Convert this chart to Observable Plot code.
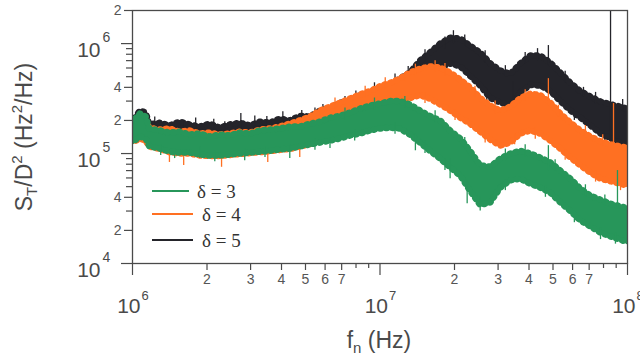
<!DOCTYPE html>
<html>
<head>
<meta charset="utf-8">
<script src="https://cdn.jsdelivr.net/npm/d3@7"></script>
<script src="https://cdn.jsdelivr.net/npm/@observablehq/plot@0.6"></script>
<style>
  html, body { margin: 0; padding: 0; background: #fff; }
  svg { display: block; }
</style>
</head>
<body>
<div id="chart"></div>
<script>
// Frequency grid (Hz) shared by the three spectra
const freq = [1.0e6, 1.07e6, 1.13e6, 1.17e6, 1.29e6, 1.41e6, 1.55e6, 1.70e6, 1.87e6, 2.05e6,
  2.25e6, 2.47e6, 2.71e6, 2.98e6, 3.27e6, 3.59e6, 3.94e6, 4.32e6, 4.74e6, 5.21e6,
  5.72e6, 6.28e6, 6.89e6, 7.56e6, 8.30e6, 9.12e6, 1.0e7, 1.10e7, 1.20e7, 1.32e7,
  1.45e7, 1.59e7, 1.75e7, 1.92e7, 2.11e7, 2.31e7, 2.54e7, 2.79e7, 3.06e7, 3.36e7,
  3.69e7, 4.05e7, 4.44e7, 4.88e7, 5.35e7, 5.88e7, 6.45e7, 7.08e7, 7.78e7, 8.54e7,
  9.37e7, 1.0e8];

// Upper and lower edges of each noisy spectrum, S_T/D^2 (Hz^2/Hz)
const delta5High = [1.95e5, 2.46e5, 2.36e5, 1.84e5, 1.91e5, 1.8e5, 1.95e5, 1.84e5, 1.76e5, 1.87e5,
  1.72e5, 1.84e5, 1.91e5, 1.8e5, 1.95e5, 1.91e5, 2.08e5, 2.0e5, 2.2e5, 2.17e5,
  2.46e5, 2.56e5, 2.9e5, 2.97e5, 3.4e5, 3.5e5, 4.0e5, 4.2e5, 4.8e5, 5.45e5,
  7.0e5, 8.3e5, 1.0e6, 1.13e6, 1.11e6, 9.6e5, 8.3e5, 6.6e5, 5.7e5, 5.3e5,
  6.6e5, 7.8e5, 7.8e5, 6.7e5, 5.45e5, 4.4e5, 3.7e5, 3.3e5, 2.97e5, 2.8e5,
  2.67e5, 2.56e5];
const delta5Low = [1.52e5, 1.72e5, 1.62e5, 1.49e5, 1.46e5, 1.52e5, 1.43e5, 1.49e5, 1.40e5, 1.37e5,
  1.40e5, 1.43e5, 1.43e5, 1.49e5, 1.52e5, 1.49e5, 1.58e5, 1.62e5, 1.69e5, 1.76e5,
  1.91e5, 2.08e5, 2.17e5, 2.36e5, 2.56e5, 2.80e5, 2.97e5, 3.3e5, 3.6e5, 4.0e5,
  4.6e5, 5.45e5, 6.05e5, 6.6e5, 6.2e5, 5.1e5, 4.15e5, 3.2e5, 2.9e5, 2.73e5,
  3.6e5, 4.2e5, 4.15e5, 3.7e5, 3.0e5, 2.46e5, 2.12e5, 1.8e5, 1.52e5, 1.37e5,
  1.26e5, 1.18e5];
const delta4High = [1.69e5, 2.04e5, 1.95e5, 1.72e5, 1.65e5, 1.69e5, 1.58e5, 1.62e5, 1.52e5, 1.55e5,
  1.49e5, 1.52e5, 1.58e5, 1.55e5, 1.65e5, 1.69e5, 1.76e5, 1.87e5, 2.0e5, 2.17e5,
  2.46e5, 2.67e5, 2.9e5, 3.16e5, 3.45e5, 3.7e5, 4.1e5, 4.4e5, 4.8e5, 5.45e5,
  5.9e5, 6.2e5, 6.05e5, 5.45e5, 4.7e5, 4.0e5, 3.2e5, 2.73e5, 2.46e5, 2.67e5,
  3.2e5, 3.5e5, 3.4e5, 2.9e5, 2.31e5, 1.91e5, 1.62e5, 1.43e5, 1.29e5, 1.21e5,
  1.16e5, 1.13e5];
const delta4Low = [1.26e5, 1.37e5, 1.31e5, 1.16e5, 1.1e5, 1.03e5, 1.0e5, 1.0e5, 9.6e4, 9.5e4,
  9.5e4, 9.7e4, 9.9e4, 1.01e5, 1.03e5, 1.05e5, 1.08e5, 1.1e5, 1.16e5, 1.22e5,
  1.46e5, 1.62e5, 1.76e5, 1.91e5, 2.08e5, 2.31e5, 2.56e5, 2.8e5, 3.0e5, 3.2e5,
  3.4e5, 3.16e5, 2.8e5, 2.46e5, 2.12e5, 1.87e5, 1.58e5, 1.34e5, 1.18e5, 1.26e5,
  1.52e5, 1.62e5, 1.52e5, 1.31e5, 1.11e5, 9.2e4, 7.8e4, 6.7e4, 5.9e4, 5.6e4,
  5.3e4, 5.1e4];
const delta3High = [1.95e5, 2.31e5, 2.17e5, 1.69e5, 1.62e5, 1.55e5, 1.58e5, 1.49e5, 1.52e5, 1.43e5,
  1.49e5, 1.46e5, 1.55e5, 1.52e5, 1.62e5, 1.65e5, 1.69e5, 1.76e5, 1.76e5, 1.87e5,
  1.95e5, 2.12e5, 2.2e5, 2.36e5, 2.56e5, 2.73e5, 2.85e5, 3.0e5, 3.0e5, 2.8e5,
  2.46e5, 2.2e5, 2.0e5, 1.62e5, 1.37e5, 1.06e5, 7.8e4, 7.6e4, 9.0e4, 1.0e5,
  1.06e5, 1.0e5, 9.2e4, 8.3e4, 7.0e4, 5.9e4, 4.8e4, 4.15e4, 3.8e4, 3.5e4,
  3.3e4, 3.2e4];
const delta3Low = [1.26e5, 1.43e5, 1.37e5, 1.16e5, 1.11e5, 1.04e5, 1.02e5, 1.02e5, 9.8e4, 9.6e4,
  9.6e4, 9.8e4, 1.0e5, 1.02e5, 1.04e5, 1.06e5, 1.09e5, 1.11e5, 1.16e5, 1.21e5,
  1.26e5, 1.31e5, 1.37e5, 1.46e5, 1.52e5, 1.62e5, 1.69e5, 1.72e5, 1.69e5, 1.49e5,
  1.26e5, 1.06e5, 9.0e4, 7.5e4, 6.3e4, 4.6e4, 3.4e4, 3.6e4, 4.9e4, 5.7e4,
  5.9e4, 5.3e4, 4.9e4, 4.4e4, 3.6e4, 3.0e4, 2.46e4, 2.17e4, 1.91e4, 1.76e4,
  1.65e4, 1.55e4];

// Narrow spikes sticking out of each spectrum: [frequency, low, high]
const delta5Spikes = [[1.23e6, 1.6e5, 2.15e5], [1.62e6, 1.6e5, 2.0e5], [1.80e6, 1.55e5, 2.1e5],
  [2.13e6, 1.55e5, 2.05e5], [2.36e6, 1.6e5, 1.95e5], [2.74e6, 1.7e5, 2.31e5], [3.12e6, 1.65e5, 2.2e5],
  [3.49e6, 1.7e5, 2.17e5], [4.05e6, 1.8e5, 2.4e5], [4.83e6, 1.9e5, 2.46e5], [5.46e6, 2.0e5, 2.6e5],
  [5.88e6, 2.2e5, 2.8e5], [7.22e6, 2.7e5, 3.3e5], [7.99e6, 2.9e5, 3.7e5], [9.5e6, 3.4e5, 4.4e5],
  [1.15e7, 4.0e5, 5.3e5], [1.30e7, 5.0e5, 6.2e5], [1.52e7, 6.8e5, 8.8e5], [1.83e7, 9.0e5, 1.15e6],
  [1.98e7, 1.0e6, 1.31e6], [2.20e7, 9.5e5, 1.2e6], [2.66e7, 6.6e5, 8.6e5], [2.70e7, 3.0e5, 3.9e5],
  [3.21e7, 5.0e5, 6.3e5], [3.45e7, 2.36e5, 4.5e5], [3.50e7, 2.6e5, 3.3e5], [3.86e7, 6.5e5, 8.3e5],
  [4.33e7, 7.0e5, 9.0e5], [4.79e7, 6.5e5, 9.6e5], [5.60e7, 4.4e5, 5.6e5], [6.10e7, 2.0e5, 2.5e5],
  [6.64e7, 3.3e5, 4.0e5], [7.43e7, 2.8e5, 3.6e5], [8.10e7, 1.27e5, 1.6e5], [8.54e7, 1.18e5, 2.0e6],
  [9.56e7, 2.4e5, 3.1e5]];
const delta4Spikes = [[1.41e6, 8.3e4, 1.1e5], [1.61e6, 7.8e4, 1.05e5], [2.29e6, 7.5e4, 1.0e5],
  [3.52e6, 8.3e4, 1.05e5], [4.74e6, 9.2e4, 1.2e5], [6.58e6, 2.5e5, 3.2e5], [8.71e6, 3.2e5, 4.1e5],
  [1.05e7, 3.8e5, 4.9e5], [1.26e7, 4.5e5, 5.45e5], [1.39e7, 5.1e5, 6.5e5], [1.52e7, 2.85e5, 3.6e5],
  [1.67e7, 5.5e5, 7.0e5], [1.83e7, 5.1e5, 6.6e5], [2.01e7, 2.0e5, 2.5e5], [2.42e7, 3.2e5, 4.1e5],
  [2.66e7, 1.25e5, 1.6e5], [2.92e7, 2.3e5, 3.0e5], [3.50e7, 1.2e5, 1.5e5], [3.86e7, 3.0e5, 3.8e5],
  [4.24e7, 1.35e5, 1.7e5], [4.79e7, 3.0e5, 4.8e5], [5.26e7, 2.15e5, 2.75e5], [5.60e7, 8.7e4, 1.1e5],
  [6.76e7, 1.4e5, 1.8e5], [7.43e7, 5.5e4, 7.0e4], [7.94e7, 1.15e5, 1.48e5], [8.78e7, 1.2e5, 2.85e5],
  [9.37e7, 4.6e4, 5.8e4]];
const delta3Spikes = [[1.30e6, 9.6e4, 1.2e5], [1.48e6, 9.0e4, 1.1e5], [1.87e6, 9.0e4, 1.15e5],
  [2.15e6, 8.4e4, 1.05e5], [2.84e6, 8.6e4, 1.1e5], [3.43e6, 9.2e4, 1.15e5], [4.32e6, 9.0e4, 1.2e5],
  [5.46e6, 1.07e5, 1.35e5], [6.28e6, 1.11e5, 1.4e5], [7.22e6, 2.0e5, 2.6e5], [7.90e6, 1.3e5, 1.65e5],
  [9.5e6, 2.5e5, 3.2e5], [1.15e7, 1.5e5, 1.9e5], [1.26e7, 2.6e5, 3.3e5], [1.39e7, 1.06e5, 1.5e5],
  [1.52e7, 1.0e5, 1.3e5], [1.67e7, 1.9e5, 2.45e5], [1.83e7, 7.0e4, 9.0e4], [1.92e7, 5.9e4, 9.0e4],
  [2.20e7, 1.1e5, 1.4e5], [2.25e7, 3.5e4, 5.5e4], [2.54e7, 3.0e4, 4.0e4], [3.21e7, 8.5e4, 1.1e5],
  [3.21e7, 4.6e4, 5.8e4], [3.86e7, 9.2e4, 1.2e5], [4.66e7, 4.0e4, 5.1e4], [4.79e7, 7.0e4, 1.18e5],
  [5.10e7, 6.9e4, 8.8e4], [6.10e7, 2.35e4, 3.0e4], [6.76e7, 4.1e4, 5.2e4], [7.78e7, 1.65e4, 2.1e4],
  [8.10e7, 3.3e4, 4.2e4], [8.94e7, 1.5e4, 1.9e4], [9.11e7, 3.2e4, 7.0e4]];

const seriesNames = ["δ = 3", "δ = 4", "δ = 5"];
const seriesColors = ["#27965a", "#ff7022", "#24242a"];

// Axis ticks and their labels
const xDecades = [1e6, 1e7, 1e8];
const xDecadeExponents = ["6", "7", "8"];
const xLabelled = [2e6, 3e6, 4e6, 5e6, 6e6, 7e6, 2e7, 3e7, 4e7, 5e7, 6e7, 7e7];
const xLabelledText = ["2", "3", "4", "5", "6", "7", "2", "3", "4", "5", "6", "7"];
const xMinor = [8e6, 9e6, 8e7, 9e7];
const yDecades = [1e4, 1e5, 1e6];
const yDecadeExponents = ["4", "5", "6"];
const yLabelled = [2e4, 4e4, 2e5, 4e5, 2e6];
const yLabelledText = ["2", "4", "2", "4", "2"];
const yMinor = [3e4, 5e4, 6e4, 7e4, 8e4, 9e4, 3e5, 5e5, 6e5, 7e5, 8e5, 9e5];

const W = 640, H = 356;
const M = {top: 10, right: 13, bottom: 93, left: 132};
const frameW = W - M.left - M.right;
const frameH = H - M.top - M.bottom;

const band = (hi, lo) => freq.map((f, i) => ({f, hi: hi[i], lo: lo[i]}));
const spikes = (arr) => arr.map(([f, lo, hi]) => ({f, lo, hi}));

const bands = [band(delta3High, delta3Low), band(delta4High, delta4Low), band(delta5High, delta5Low)];
const spikeSets = [spikes(delta3Spikes), spikes(delta4Spikes), spikes(delta5Spikes)];

const axisColor = "#4a4a4a";
const labelColor = "#555";

// δ = 5 first, then δ = 4, then δ = 3 on top.
// The band edges get a ragged texture from short dashes of two different periods.
const seriesMarks = [];
for (const k of [2, 1, 0]) {
  const c = seriesColors[k];
  seriesMarks.push(
    Plot.areaY(bands[k], {x: "f", y1: "lo", y2: "hi", fill: c, stroke: c, strokeWidth: 0.6, clip: true}),
    ...["hi", "lo"].flatMap(edge => [
      Plot.line(bands[k], {x: "f", y: edge, stroke: c, strokeWidth: 3.5, strokeDasharray: "1.1,1.9", clip: true}),
      Plot.line(bands[k], {x: "f", y: edge, stroke: c, strokeWidth: 6.5, strokeDasharray: "0.9,5.3", strokeDashoffset: 2, clip: true})
    ]),
    Plot.ruleX(spikeSets[k], {x: "f", y1: "lo", y2: "hi", stroke: c, strokeWidth: 1.3, clip: true})
  );
}

// Tick marks hang outside the frame: rules inset so that only a short stub remains
const xTicks = (values, len) => Plot.ruleX(values, {x: d => d, insetTop: frameH, insetBottom: -len, stroke: axisColor, strokeWidth: 1.2});
const yTicks = (values, len) => Plot.ruleY(values, {y: d => d, insetRight: frameW, insetLeft: -len, stroke: axisColor, strokeWidth: 1.2});

const chart = Plot.plot({
  width: W,
  height: H,
  marginLeft: M.left,
  marginRight: M.right,
  marginTop: M.top,
  marginBottom: M.bottom,
  style: {fontFamily: "'Liberation Sans', Arial, sans-serif", background: "#fff", color: axisColor},
  x: {type: "log", domain: [1e6, 1e8], axis: null},
  y: {type: "log", domain: [1e4, 2e6], axis: null},
  marks: [
    ...seriesMarks,
    Plot.frame({stroke: axisColor, strokeWidth: 1.3}),
    // y axis
    yTicks(yDecades, 11),
    yTicks(yLabelled, 8),
    yTicks(yMinor, 6),
    Plot.text(yLabelled, {y: d => d, text: (d, i) => yLabelledText[i], frameAnchor: "left", textAnchor: "end", dx: -11, fontSize: 14, fill: labelColor}),
    Plot.text(yDecades, {y: d => d, text: () => "10", frameAnchor: "left", textAnchor: "end", dx: -32, dy: 7, fontSize: 21, fill: axisColor}),
    Plot.text(yDecades, {y: d => d, text: (d, i) => yDecadeExponents[i], frameAnchor: "left", textAnchor: "start", dx: -30, dy: -6, fontSize: 14, fill: axisColor}),
    // x axis
    xTicks(xDecades, 12),
    xTicks(xLabelled, 7),
    xTicks(xMinor, 5),
    Plot.text(xLabelled, {x: d => d, text: (d, i) => xLabelledText[i], frameAnchor: "bottom", dy: 20, fontSize: 14, fill: labelColor}),
    Plot.text(xDecades, {x: d => d, text: () => "10", frameAnchor: "bottom", textAnchor: "end", dx: 8, dy: 49, fontSize: 21, fill: axisColor}),
    Plot.text(xDecades, {x: d => d, text: (d, i) => xDecadeExponents[i], frameAnchor: "bottom", textAnchor: "start", dx: 9, dy: 36, fontSize: 13, fill: axisColor})
  ]
});

document.getElementById("chart").appendChild(chart);

// Axis titles with sub/superscripts
const svg = d3.select(chart);
const ytitle = svg.append("text")
  .attr("transform", "translate(32,137) rotate(-90)")
  .attr("text-anchor", "middle")
  .attr("font-family", "'Liberation Sans', Arial, sans-serif")
  .attr("font-size", 23)
  .attr("fill", axisColor);
ytitle.append("tspan").text("S");
ytitle.append("tspan").attr("font-size", 15).attr("dy", 5).text("T");
ytitle.append("tspan").attr("dy", -5).text("/D");
ytitle.append("tspan").attr("font-size", 15).attr("dy", -10).text("2");
ytitle.append("tspan").attr("dy", 10).text(" (Hz");
ytitle.append("tspan").attr("font-size", 15).attr("dy", -10).text("2");
ytitle.append("tspan").attr("dy", 10).text("/Hz)");

const xtitle = svg.append("text")
  .attr("x", 379).attr("y", 348)
  .attr("text-anchor", "middle")
  .attr("font-family", "'Liberation Sans', Arial, sans-serif")
  .attr("font-size", 23)
  .attr("fill", axisColor);
xtitle.append("tspan").text("f");
xtitle.append("tspan").attr("font-size", 15).attr("dy", 5).text("n");
xtitle.append("tspan").attr("dy", -5).text(" (Hz)");

// Legend inside the plot area
const legend = svg.append("g")
  .attr("font-family", "'Liberation Serif', 'Times New Roman', serif")
  .attr("font-size", 19)
  .attr("text-anchor", "start")
  .attr("fill", "#333");
const legendRows = [{y: 191, x2: 189, tx: 197}, {y: 214, x2: 193, tx: 202}, {y: 240, x2: 193, tx: 202}];
legendRows.forEach((r, i) => {
  legend.append("line").attr("x1", 152).attr("x2", r.x2).attr("y1", r.y).attr("y2", r.y)
    .attr("stroke", seriesColors[i]).attr("stroke-width", 1.8);
  legend.append("text").attr("x", r.tx).attr("y", r.y).attr("dy", "0.35em").text(seriesNames[i]);
});
</script>
</body>
</html>
